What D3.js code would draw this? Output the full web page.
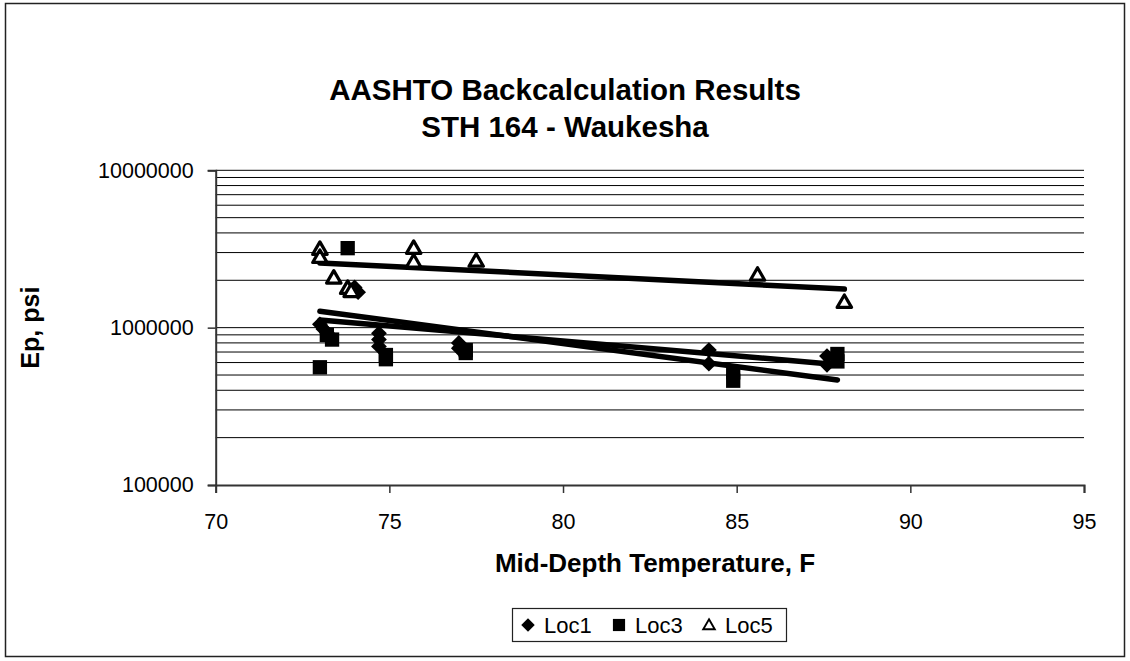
<!DOCTYPE html>
<html>
<head>
<meta charset="utf-8">
<script src="https://cdn.jsdelivr.net/npm/d3@7"></script>
<style>
  body { margin: 0; background: #fff; }
  svg { display: block; }
  text { font-family: "Liberation Sans", Arial, sans-serif; }
</style>
</head>
<body>
<div id="chart"></div>
<script>
// values
const loc1X = [73.0, 73.1, 73.2, 73.3, 74.0, 74.1, 74.7, 74.7, 74.7, 77.0, 77.0, 84.2, 84.2, 87.6, 87.6]
const loc1Y = [1.05e6, 0.98e6, 0.93e6, 0.87e6, 1.8e6, 1.68e6, 0.92e6, 0.84e6, 0.76e6, 0.8e6, 0.74e6, 0.72e6, 0.59e6, 0.66e6, 0.58e6]
const loc3X = [73.0, 73.2, 73.35, 73.8, 74.9, 74.9, 77.2, 77.2, 84.9, 84.9, 87.9, 87.9]
const loc3Y = [0.56e6, 0.9e6, 0.84e6, 3.2e6, 0.67e6, 0.63e6, 0.72e6, 0.69e6, 0.52e6, 0.46e6, 0.68e6, 0.61e6]
const loc5X = [73.0, 73.0, 73.4, 73.8, 73.9, 75.7, 75.7, 77.5, 85.6, 88.1]
const loc5Y = [3.15e6, 2.8e6, 2.07e6, 1.78e6, 1.7e6, 3.2e6, 2.62e6, 2.65e6, 2.16e6, 1.45e6]
// exponential trendlines (start / end value), drawn over each series' x range
const loc1Trend = [1.12e6, 0.59e6]
const loc3Trend = [1.27e6, 0.465e6]
const loc5Trend = [2.58e6, 1.76e6]
const xTicks = [70, 75, 80, 85, 90, 95]
const yTicks = [100000, 1000000, 10000000]
const seriesNames = ["Loc1", "Loc3", "Loc5"]

const W = 1130, H = 661
const plot = {left: 215.7, right: 1084, top: 170.3, bottom: 485}

const svg = d3.select("#chart").append("svg")
  .attr("width", W)
  .attr("height", H)

// chart border
svg.append("rect")
  .attr("x", 5.5).attr("y", 3.5)
  .attr("width", 1119).attr("height", 653)
  .attr("fill", "#fff")
  .attr("stroke", "#222")
  .attr("stroke-width", 1.5)

const x = d3.scaleLinear().domain([70, 95]).range([plot.left, plot.right])
const y = d3.scaleLog().domain([1e5, 1e7]).range([plot.bottom, plot.top])

// gridlines at 1..9 of each decade
const gridVals = []
for (let e = 5; e < 7; e++) {
  for (let m = 1; m <= 9; m++) gridVals.push(m * Math.pow(10, e))
}
gridVals.push(1e7)
svg.append("g").selectAll("line")
  .data(gridVals.filter(v => v > 1e5))
  .enter().append("line")
  .attr("x1", plot.left).attr("x2", plot.right)
  .attr("y1", d => y(d)).attr("y2", d => y(d))
  .attr("stroke", "#000")
  .attr("stroke-width", 1)

// y axis
const yAxis = svg.append("g")
  .attr("transform", `translate(${plot.left},0)`)
  .call(d3.axisLeft(y).tickValues(yTicks).tickFormat(d3.format("d")).tickSize(8).tickPadding(14))
yAxis.select(".domain").attr("stroke", "#333").attr("stroke-width", 2)
yAxis.selectAll(".tick line").attr("stroke", "#333").attr("stroke-width", 1.5)
yAxis.selectAll("text").attr("font-size", 21.5).attr("fill", "#000")

// x axis
const xAxis = svg.append("g")
  .attr("transform", `translate(0,${plot.bottom})`)
  .call(d3.axisBottom(x).tickValues(xTicks).tickSize(8).tickPadding(21))
xAxis.select(".domain").attr("stroke", "#333").attr("stroke-width", 2)
xAxis.selectAll(".tick line").attr("stroke", "#333").attr("stroke-width", 1.5)
xAxis.selectAll("text").attr("font-size", 21.5).attr("fill", "#000")
svg.selectAll("g").attr("font-family", null)

// trendlines
const trends = [
  {xs: loc1X, v: loc1Trend},
  {xs: loc3X, v: loc3Trend},
  {xs: loc5X, v: loc5Trend}
]
svg.append("g").selectAll("line")
  .data(trends)
  .enter().append("line")
  .attr("x1", d => x(d3.min(d.xs))).attr("y1", d => y(d.v[0]))
  .attr("x2", d => x(d3.max(d.xs))).attr("y2", d => y(d.v[1]))
  .attr("stroke", "#000")
  .attr("stroke-width", 5.5)
  .attr("stroke-linecap", "round")

// markers
const diamondType = {
  draw(ctx, size) {
    const r = Math.sqrt(size / 2)
    ctx.moveTo(0, -r); ctx.lineTo(r, 0); ctx.lineTo(0, r); ctx.lineTo(-r, 0); ctx.closePath()
  }
}
const diamond = d3.symbol().type(diamondType).size(125)
const square = d3.symbol().type(d3.symbolSquare).size(205)
const triangle = d3.symbol().type(d3.symbolTriangle).size(90)

svg.append("g").selectAll("path")
  .data(loc1X.map((v, i) => [v, loc1Y[i]]))
  .enter().append("path")
  .attr("d", diamond)
  .attr("transform", d => `translate(${x(d[0])},${y(d[1])})`)
  .attr("fill", "#000")

svg.append("g").selectAll("path")
  .data(loc3X.map((v, i) => [v, loc3Y[i]]))
  .enter().append("path")
  .attr("d", square)
  .attr("transform", d => `translate(${x(d[0])},${y(d[1])})`)
  .attr("fill", "#000")

svg.append("g").selectAll("path")
  .data(loc5X.map((v, i) => [v, loc5Y[i]]))
  .enter().append("path")
  .attr("d", triangle)
  .attr("transform", d => `translate(${x(d[0])},${y(d[1]) + 1})`)
  .attr("fill", "#fff")
  .attr("stroke", "#000")
  .attr("stroke-width", 3.2)
  .attr("stroke-linejoin", "round")

// titles
svg.append("text")
  .attr("x", 565).attr("y", 100)
  .attr("text-anchor", "middle")
  .attr("font-size", 29.5).attr("font-weight", "bold")
  .text("AASHTO Backcalculation Results")
svg.append("text")
  .attr("x", 565).attr("y", 137)
  .attr("text-anchor", "middle")
  .attr("font-size", 29.5).attr("font-weight", "bold")
  .text("STH 164 - Waukesha")

svg.append("text")
  .attr("x", 655).attr("y", 572)
  .attr("text-anchor", "middle")
  .attr("font-size", 26).attr("font-weight", "bold")
  .text("Mid-Depth Temperature, F")

svg.append("text")
  .attr("transform", `translate(39,${(plot.top + plot.bottom) / 2}) rotate(-90)`)
  .attr("text-anchor", "middle")
  .attr("font-size", 25).attr("font-weight", "bold")
  .text("Ep, psi")

// legend
const legend = svg.append("g")
legend.append("rect")
  .attr("x", 512.5).attr("y", 608.5)
  .attr("width", 274).attr("height", 33)
  .attr("fill", "#fff")
  .attr("stroke", "#222")
  .attr("stroke-width", 1.2)

const legendX = [528, 619, 709]
const legendSym = [diamond, square, triangle]
legend.selectAll(".lsym")
  .data(seriesNames)
  .enter().append("path")
  .attr("class", "lsym")
  .attr("d", (d, i) => legendSym[i]())
  .attr("transform", (d, i) => `translate(${legendX[i]},${i === 2 ? 626 : 625}) scale(${i === 2 ? 0.8 : 0.85})`)
  .attr("fill", (d, i) => i === 2 ? "#fff" : "#000")
  .attr("stroke", (d, i) => i === 2 ? "#000" : "none")
  .attr("stroke-width", 2.4)
legend.selectAll(".ltxt")
  .data(seriesNames)
  .enter().append("text")
  .attr("class", "ltxt")
  .attr("x", (d, i) => legendX[i] + 16)
  .attr("y", 633)
  .attr("font-size", 22)
  .text(d => d)
</script>
</body>
</html>
